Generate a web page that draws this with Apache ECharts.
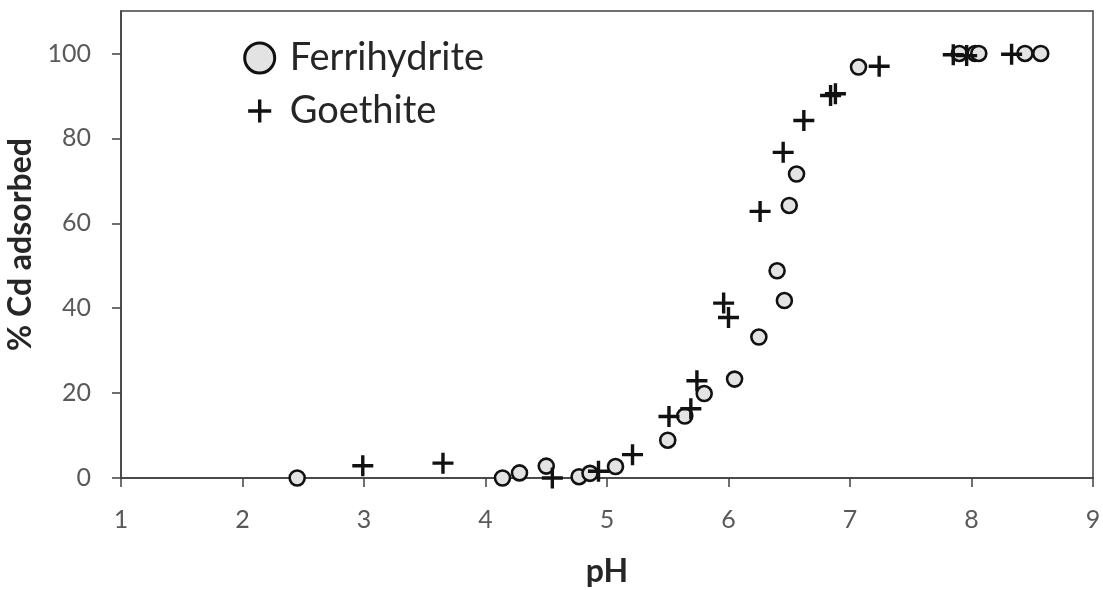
<!DOCTYPE html>
<html>
<head>
<meta charset="utf-8">
<script src="https://cdn.jsdelivr.net/npm/echarts@6/dist/echarts.min.js"></script>
<style>html,body{margin:0;padding:0;background:#fff}#c{width:1103px;height:590px}</style>
</head>
<body>
<div id="c"></div>
<script>
const seriesNames = ['Ferrihydrite', 'Goethite'];
const ferrihydrite = [
  [2.45, 0], [4.14, 0], [4.28, 1.2], [4.50, 2.8], [4.77, 0.3], [4.86, 1.1], [5.07, 2.7],
  [5.50, 8.9], [5.64, 14.6], [5.80, 19.9], [6.05, 23.3], [6.25, 33.2], [6.40, 48.8],
  [6.46, 41.8], [6.50, 64.2], [6.56, 71.6], [7.07, 96.8], [7.90, 100], [8.03, 100],
  [8.06, 100], [8.44, 100], [8.57, 100]
];
const goethite = [
  [2.99, 2.9], [3.65, 3.5], [4.55, 0], [4.93, 1.6], [5.21, 5.5], [5.51, 14.5], [5.69, 16.3],
  [5.74, 22.9], [5.96, 41.2], [6.00, 37.8], [6.26, 62.8], [6.45, 76.7], [6.62, 84.2],
  [6.84, 90.1], [6.88, 90.5], [7.24, 97], [7.85, 99.7], [7.96, 99.5], [8.33, 99.8]
];
const xTicks = [1, 2, 3, 4, 5, 6, 7, 8, 9];
const yTicks = [0, 20, 40, 60, 80, 100];
const xTitle = 'pH';
const yTitle = '% Cd adsorbed';

const FONT = 'Lato';
const axisColor = '#404040';
const labelColor = '#595959';
const plusPath = 'path://M0,10L20,10M10,0L10,20';
const plusLegend = 'path://M-3,-3M0,10L20,10M10,0L10,20M23,23';

const chart = echarts.init(document.getElementById('c'), null, {renderer: 'canvas'});
chart.setOption({
  animation: false,
  backgroundColor: '#fff',
  grid: {left: 121, right: 10, top: 11, bottom: 112, outerBoundsMode: 'none', containLabel: false,
         show: true, borderColor: axisColor, borderWidth: 1.5},
  legend: {
    orient: 'vertical', left: 238, top: 34, itemWidth: 30, itemHeight: 30, itemGap: 15,
    textStyle: {fontFamily: FONT, fontSize: 38, color: '#262626', padding: [0, 0, 0, 10]},
    data: [
      {name: seriesNames[0], icon: 'circle', itemStyle: {borderWidth: 3, borderColor: '#111', color: '#e3e3e3'}},
      {name: seriesNames[1], icon: plusLegend, itemStyle: {borderWidth: 3.4, borderColor: '#111', color: '#111'}}
    ]
  },
  xAxis: {
    type: 'value', min: 1, max: 9, interval: 1,
    name: xTitle, nameLocation: 'middle', nameGap: 78,
    nameTextStyle: {fontFamily: FONT, fontSize: 32, fontWeight: 'bold', color: '#262626'},
    axisLine: {onZero: false, lineStyle: {color: axisColor, width: 1.5}},
    axisTick: {show: true, length: 9, lineStyle: {color: axisColor, width: 1.5}, customValues: xTicks},
    axisLabel: {fontFamily: FONT, fontSize: 25, color: labelColor, margin: 29, customValues: xTicks},
    splitLine: {show: false}
  },
  yAxis: {
    type: 'value', min: 0, max: 110,
    name: yTitle, nameLocation: 'middle', nameGap: 82, nameRotate: 90,
    nameTextStyle: {fontFamily: FONT, fontSize: 32, fontWeight: 'bold', color: '#262626'},
    axisLine: {show: true, lineStyle: {color: axisColor, width: 1.5}},
    axisTick: {show: true, length: 9, lineStyle: {color: axisColor, width: 1.5}, customValues: yTicks},
    axisLabel: {fontFamily: FONT, fontSize: 25, color: labelColor, margin: 30, customValues: yTicks},
    splitLine: {show: false}
  },
  series: [
    {
      name: seriesNames[0], type: 'scatter', data: ferrihydrite,
      symbol: 'circle', symbolSize: 15,
      itemStyle: {color: '#e3e3e3', borderColor: '#111', borderWidth: 2.6, opacity: 1}
    },
    {
      name: seriesNames[1], type: 'scatter', data: goethite,
      symbol: plusPath, symbolSize: 21,
      itemStyle: {color: '#111', borderColor: '#111', borderWidth: 3.4, opacity: 1}
    }
  ]
});
</script>
</body>
</html>
